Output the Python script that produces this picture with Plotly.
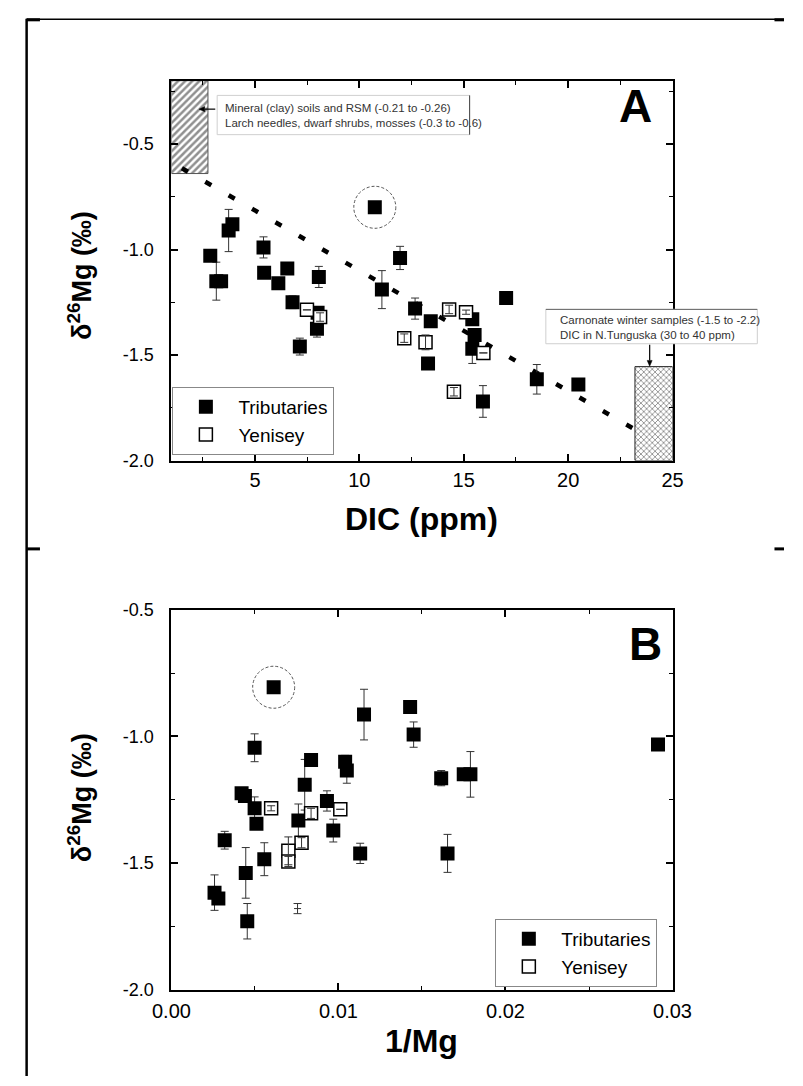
import plotly.graph_objects as go

W, H = 803, 1086
FONT = "Arial, 'Liberation Sans', sans-serif"


def px(x):
    return x / W


def py(y):
    return 1 - y / H


# ---------------- Panel A: d26Mg vs DIC ----------------
trib_a_x = [2.86, 3.15, 3.38, 3.74, 3.92, 5.41, 5.44, 6.12, 6.55, 6.80, 7.15, 8.06, 8.00,
            7.97, 10.74, 11.95, 11.08, 12.67, 13.42, 13.29, 15.41, 15.52, 15.41, 15.92,
            17.03, 18.50, 20.49]
trib_a_y = [-1.03, -1.15, -1.15, -0.91, -0.88, -0.99, -1.11, -1.16, -1.09, -1.25, -1.46, -1.13,
            -1.30, -1.375, -0.80, -1.04, -1.19, -1.28, -1.34, -1.54, -1.33, -1.405, -1.47,
            -1.72, -1.23, -1.615, -1.64]
trib_a_err = [0, 0.09, 0, 0.10, 0, 0.05, 0.025, 0, 0, 0.03, 0.04, 0.05, 0, 0.04, 0, 0.055,
              0.09, 0.05, 0, 0, 0, 0, 0.07, 0.075, 0, 0.07, 0]
outlier_a = 14  # circled sample

yen_a_x = [7.49, 8.12, 12.15, 13.17, 14.30, 15.11, 15.94, 14.53]
yen_a_y = [-1.286, -1.32, -1.42, -1.44, -1.284, -1.297, -1.49, -1.674]
yen_a_err = [0, 0.02, 0.02, 0.035, 0.02, 0.01, 0, 0.02]

# dotted mixing trend between the two end-member fields
trend_x = [1.5, 23.2]
trend_y = [-0.615, -1.853]

# end-member fields
organic_x = [1.0, 2.75]
organic_y = [-0.64, -0.2]
carbonate_x = [23.2, 25.0]
carbonate_y = [-2.0, -1.555]

xa_ticks = [5, 10, 15, 20, 25]
xa_labels = ["5", "10", "15", "20", "25"]
xa_minor = [2.5, 7.5, 12.5, 17.5, 22.5]
ya_ticks = [-2.0, -1.5, -1.0, -0.5]
ya_labels = ["-2.0", "-1.5", "-1.0", "-0.5"]
ya_minor = [-1.75, -1.25, -0.75, -0.25]

# ---------------- Panel B: d26Mg vs 1/Mg ----------------
trib_b_x = [0.00612, 0.00498, 0.01153, 0.01429, 0.0145, 0.00836, 0.0104, 0.0105, 0.00798,
            0.0042, 0.0044, 0.00498, 0.00509, 0.00319, 0.0076, 0.00931, 0.00969, 0.00556,
            0.0113, 0.01653, 0.01615, 0.0175, 0.0179, 0.02913, 0.00258, 0.00281, 0.00445,
            0.00454]
trib_b_y = [-0.806, -1.045, -0.914, -0.884, -0.993, -1.093, -1.10, -1.135, -1.191,
            -1.225, -1.235, -1.284, -1.345, -1.41, -1.332, -1.255, -1.372, -1.485,
            -1.462, -1.462, -1.165, -1.15, -1.15, -1.032, -1.617, -1.64, -1.539, -1.73]
trib_b_err = [0, 0.055, 0.10, 0, 0.05, 0, 0.025, 0.05, 0.10, 0, 0, 0.045, 0, 0.035, 0.065,
              0.04, 0.045, 0.065, 0.04, 0.075, 0.03, 0, 0.09, 0, 0.07, 0, 0.10, 0.07]
outlier_b = 0

yen_b_x = [0.00597, 0.00836, 0.01011, 0.00779, 0.0070, 0.0070]
yen_b_y = [-1.284, -1.304, -1.288, -1.42, -1.452, -1.494]
yen_b_err = [0.01, 0.02, 0, 0.02, 0.055, 0.02]
# Yenisey sample plotted with its error bar only
yen_b_bar_x = [0.00755]
yen_b_bar_y = [-1.68]
yen_b_bar_err = [0.02]

xb_ticks = [0.0, 0.01, 0.02, 0.03]
xb_labels = ["0.00", "0.01", "0.02", "0.03"]
xb_minor = [0.005, 0.015, 0.025]
yb_ticks = [-2.0, -1.5, -1.0, -0.5]
yb_labels = ["-2.0", "-1.5", "-1.0", "-0.5"]
yb_minor = [-1.75, -1.25, -0.75]

fig = go.Figure()


def box_poly(xr, yr):
    return ([xr[0], xr[1], xr[1], xr[0], xr[0]], [yr[0], yr[0], yr[1], yr[1], yr[0]])


err_style = dict(type="data", visible=True, thickness=1, width=4, color="#333")

# --- panel A traces ---
ox, oy = box_poly(organic_x, organic_y)
fig.add_trace(go.Scatter(x=ox, y=oy, mode="lines", fill="toself", showlegend=False,
                         line=dict(color="#555", width=1), fillcolor="white",
                         fillpattern=dict(shape="/", size=5, solidity=0.5,
                                          fgcolor="#222", bgcolor="white"),
                         hoverinfo="skip", xaxis="x", yaxis="y"))
cx, cy = box_poly(carbonate_x, carbonate_y)
fig.add_trace(go.Scatter(x=cx, y=cy, mode="lines", fill="toself", showlegend=False,
                         line=dict(color="#222", width=1), fillcolor="white",
                         fillpattern=dict(shape="x", size=4, solidity=0.4,
                                          fgcolor="#222", bgcolor="white"),
                         hoverinfo="skip", xaxis="x", yaxis="y"))
fig.add_trace(go.Scatter(x=trend_x, y=trend_y, mode="lines", showlegend=False,
                         line=dict(color="black", width=4.5, dash="7px,20px"),
                         xaxis="x", yaxis="y"))
fig.add_trace(go.Scatter(x=trib_a_x, y=trib_a_y, mode="markers", name="Tributaries",
                         marker=dict(symbol="square", size=14, color="black"),
                         error_y=dict(array=trib_a_err, **err_style),
                         legend="legend", xaxis="x", yaxis="y"))
fig.add_trace(go.Scatter(x=yen_a_x, y=yen_a_y, mode="markers", name="Yenisey",
                         marker=dict(symbol="square", size=13, color="white",
                                     line=dict(color="black", width=1.5)),
                         legend="legend", xaxis="x", yaxis="y"))
fig.add_trace(go.Scatter(x=yen_a_x, y=yen_a_y, mode="markers", showlegend=False,
                         marker=dict(size=1, opacity=0),
                         error_y=dict(array=yen_a_err, **err_style),
                         xaxis="x", yaxis="y"))

# --- panel B traces ---
fig.add_trace(go.Scatter(x=trib_b_x, y=trib_b_y, mode="markers", name="Tributaries",
                         marker=dict(symbol="square", size=14, color="black"),
                         error_y=dict(array=trib_b_err, **err_style),
                         legend="legend2", xaxis="x2", yaxis="y2"))
fig.add_trace(go.Scatter(x=yen_b_x, y=yen_b_y, mode="markers", name="Yenisey",
                         marker=dict(symbol="square", size=13, color="white",
                                     line=dict(color="black", width=1.5)),
                         legend="legend2", xaxis="x2", yaxis="y2"))
fig.add_trace(go.Scatter(x=yen_b_x, y=yen_b_y, mode="markers", showlegend=False,
                         marker=dict(size=1, opacity=0),
                         error_y=dict(array=yen_b_err, **err_style),
                         xaxis="x2", yaxis="y2"))
fig.add_trace(go.Scatter(x=yen_b_bar_x, y=yen_b_bar_y, mode="markers", showlegend=False,
                         marker=dict(symbol="line-ew-open", size=5, color="#333",
                                     line=dict(color="#333", width=1)),
                         error_y=dict(array=yen_b_bar_err, **err_style),
                         xaxis="x2", yaxis="y2"))

tickfont_x = dict(family=FONT, size=20, color="black")
tickfont_y = dict(family=FONT, size=18, color="black")
common = dict(showline=True, linewidth=2, linecolor="black", mirror="ticks",
              ticks="inside", ticklen=7, tickwidth=1.5, tickcolor="black",
              showgrid=False, zeroline=False, tickmode="array")


def minor(vals):
    return dict(tickmode="array", tickvals=vals, ticks="inside", ticklen=4,
                tickwidth=1.2, tickcolor="black", showgrid=False)


xdom = [px(160), px(686)]
legend_style = dict(xanchor="left", yanchor="top", bordercolor="#888", borderwidth=1,
                    bgcolor="white", itemwidth=55, tracegroupgap=0,
                    font=dict(family=FONT, size=19, color="black"))
fig.update_layout(
    width=W, height=H, autosize=False,
    margin=dict(l=0, r=0, t=0, b=0),
    paper_bgcolor="white", plot_bgcolor="white",
    xaxis=dict(domain=xdom, range=[1, 25], tickvals=xa_ticks, ticktext=xa_labels,
               minor=minor(xa_minor), tickfont=tickfont_x, ticklabelstandoff=0,
               anchor="y", **common),
    yaxis=dict(domain=[py(459), py(72)], range=[-2.0, -0.2], tickvals=ya_ticks,
               ticktext=ya_labels, minor=minor(ya_minor), tickfont=tickfont_y,
               ticklabelstandoff=12, anchor="x", **common),
    xaxis2=dict(domain=xdom, range=[0, 0.03], tickvals=xb_ticks, ticktext=xb_labels,
                minor=minor(xb_minor), tickfont=tickfont_x, ticklabelstandoff=2,
                anchor="y2", **common),
    yaxis2=dict(domain=[py(998), py(611)], range=[-2.0, -0.5], tickvals=yb_ticks,
                ticktext=yb_labels, minor=minor(yb_minor), tickfont=tickfont_y,
                ticklabelstandoff=12, anchor="x2", **common),
    legend=dict(x=px(161), y=py(384), **legend_style),
    legend2=dict(x=px(500), y=py(926), **legend_style),
)

shapes = []
# dotted circles around the outlying sample
for xref, yref, xs, ys, i in (("x", "y", trib_a_x, trib_a_y, outlier_a),
                              ("x2", "y2", trib_b_x, trib_b_y, outlier_b)):
    shapes.append(dict(type="circle", xref=xref, yref=yref, xsizemode="pixel",
                       ysizemode="pixel", xanchor=xs[i], yanchor=ys[i],
                       x0=-21, x1=21, y0=-21, y1=21,
                       line=dict(color="#555", width=1, dash="3px,2px")))

# caption boxes
shapes.append(dict(type="rect", xref="paper", yref="paper", x0=px(208), x1=px(473),
                   y0=py(127), y1=py(87), fillcolor="white", layer="above",
                   line=dict(color="#cfcfcf", width=1)))
shapes.append(dict(type="line", xref="paper", yref="paper", x0=px(473), x1=px(473),
                   y0=py(127), y1=py(87), layer="above", line=dict(color="#444", width=1)))
shapes.append(dict(type="rect", xref="paper", yref="paper", x0=px(553), x1=px(775),
                   y0=py(340), y1=py(305), fillcolor="white", layer="above",
                   line=dict(color="#cfcfcf", width=1)))
shapes.append(dict(type="line", xref="paper", yref="paper", x0=px(553), x1=px(775),
                   y0=py(305), y1=py(305), layer="above", line=dict(color="#666", width=1)))


# pointer arrows from the captions to the fields
def arrow(x0, y0, x1, y1, head=6, half=2.6):
    dx, dy = x1 - x0, y1 - y0
    n = (dx * dx + dy * dy) ** 0.5
    ux, uy = dx / n, dy / n
    bx, by = x1 - ux * head, y1 - uy * head
    pts = [(x1, y1), (bx - uy * half, by + ux * half), (bx + uy * half, by - ux * half)]
    path = "M " + " L ".join(f"{px(a):.5f},{py(b):.5f}" for a, b in pts) + " Z"
    return [dict(type="line", xref="paper", yref="paper", layer="above",
                 x0=px(x0), y0=py(y0), x1=px(bx), y1=py(by),
                 line=dict(color="black", width=1.2)),
            dict(type="path", xref="paper", yref="paper", layer="above", path=path,
                 fillcolor="black", line=dict(color="black", width=0.5))]


shapes += arrow(206, 101, 189, 101)
shapes += arrow(662, 341, 662, 363)

# outer frame
frame = dict(type="line", xref="paper", yref="paper", layer="above")
shapes.append(dict(frame, x0=px(8), x1=px(8), y0=py(9), y1=0, line=dict(color="black", width=2.5)))
shapes.append(dict(frame, x0=px(8), x1=1, y0=py(9.5), y1=py(9.5), line=dict(color="black", width=1.5)))
for (a, b, yy) in ((8, 22, 10), (793, 803, 10), (8, 22, 549), (793, 803, 549)):
    shapes.append(dict(frame, x0=px(a), x1=px(b), y0=py(yy), y1=py(yy),
                       line=dict(color="black", width=3)))
fig.update_layout(shapes=shapes)

ann = []
caption_font = dict(family=FONT, size=11.5, color="#333")
ann.append(dict(xref="paper", yref="paper", x=px(214), y=py(107), xanchor="left",
                yanchor="middle", align="left", showarrow=False, font=caption_font,
                text="Mineral (clay) soils and RSM (-0.21 to -0.26)<br>"
                     "Larch needles, dwarf shrubs, mosses (-0.3 to -0.6)"))
ann.append(dict(xref="paper", yref="paper", x=px(566), y=py(323), xanchor="left",
                yanchor="middle", align="left", showarrow=False, font=caption_font,
                text="Carnonate winter samples (-1.5 to -2.2)<br>"
                     "DIC in N.Tunguska (30 to 40 ppm)"))
# panel letters
for letter, (lx, ly) in (("A", (647, 98)), ("B", (658, 646))):
    ann.append(dict(xref="paper", yref="paper", x=px(lx), y=py(ly), showarrow=False,
                    xanchor="center", yanchor="middle",
                    text=f"<b>{letter}</b>", font=dict(family=FONT, size=46, color="black")))
# axis titles
title_font = dict(family=FONT, size=32, color="black")
ann.append(dict(xref="paper", yref="paper", x=px(423), y=py(519), showarrow=False,
                xanchor="center", yanchor="middle",
                text="<b>DIC (ppm)</b>", font=title_font))
ann.append(dict(xref="paper", yref="paper", x=px(423), y=py(1050), showarrow=False,
                xanchor="center", yanchor="middle",
                text="<b>1/Mg</b>", font=title_font))
for cyy in (270, 802):
    ann.append(dict(xref="paper", yref="paper", x=px(64), y=py(cyy), showarrow=False,
                    xanchor="center", yanchor="middle",
                    textangle=-90, text="<b>δ<sup>26</sup>Mg (‰)</b>",
                    font=dict(family=FONT, size=27, color="black")))
fig.update_layout(annotations=ann)

fig.write_html("out.html")
